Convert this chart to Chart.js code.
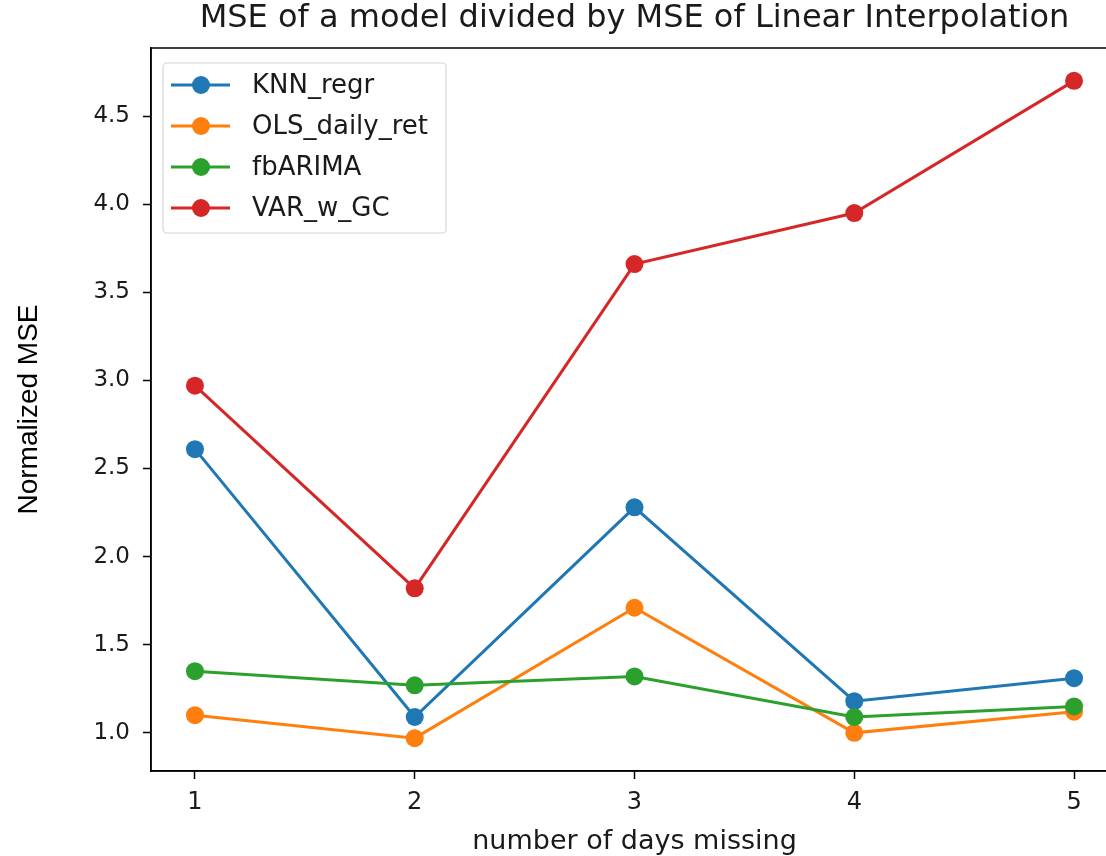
<!DOCTYPE html>
<html>
<head>
<meta charset="utf-8">
<script src="https://cdn.jsdelivr.net/npm/chart.js@4.4.1/dist/chart.umd.min.js"></script>
<style>
  html, body { margin: 0; padding: 0; background: #fff; overflow: hidden; }
  canvas { display: block; }
</style>
</head>
<body>
<canvas id="mseChart" width="1130" height="856"></canvas>
<script>
// x values: number of days missing
const daysMissing = [1, 2, 3, 4, 5];
const xTicks = [1, 2, 3, 4, 5];
const yTicks = [1.0, 1.5, 2.0, 2.5, 3.0, 3.5, 4.0, 4.5];

// series values
const knnRegr = [2.61, 1.09, 2.28, 1.18, 1.31];
const olsDailyRet = [1.10, 0.97, 1.71, 1.00, 1.12];
const fbArima = [1.35, 1.27, 1.32, 1.09, 1.15];
const varWGC = [2.97, 1.82, 3.66, 3.95, 4.70];

const seriesNames = ['KNN_regr', 'OLS_daily_ret', 'fbARIMA', 'VAR_w_GC'];
const seriesData = [knnRegr, olsDailyRet, fbArima, varWGC];
const seriesColors = ['#1f77b4', '#ff7f0e', '#2ca02c', '#d62728'];

const MPL_FONT = '"DejaVu Sans", sans-serif';

function makeDataset(i) {
    return {
        label: seriesNames[i],
        data: daysMissing.map((x, k) => ({ x: x, y: seriesData[i][k] })),
        borderColor: seriesColors[i],
        backgroundColor: seriesColors[i],
        borderWidth: 3,
        pointRadius: 9,
        pointBorderWidth: 0,
        pointHoverRadius: 9,
        tension: 0,
        fill: false,
        order: seriesNames.length - i   // last series drawn on top, like matplotlib
    };
}

// frame, title and legend box drawn the matplotlib way
const mplExtras = {
    id: 'mplExtras',
    afterDatasetsDraw(chart) {
        const ctx = chart.ctx;
        const a = chart.chartArea;
        ctx.save();
        ctx.strokeStyle = '#000';
        ctx.lineWidth = 1.5;
        ctx.strokeRect(a.left, a.top, a.right - a.left, a.bottom - a.top);

        // legend
        const lx = a.left + 12, ly = a.top + 15, lw = 283, lh = 170;
        ctx.fillStyle = 'rgba(255,255,255,0.8)';
        ctx.strokeStyle = '#d6d6d6';
        ctx.lineWidth = 1.2;
        ctx.beginPath();
        ctx.roundRect(lx, ly, lw, lh, 4);
        ctx.fill();
        ctx.stroke();
        ctx.font = '26px ' + MPL_FONT;
        ctx.textBaseline = 'middle';
        seriesNames.forEach((name, i) => {
            const y = ly + 22 + i * 41;
            ctx.strokeStyle = seriesColors[i];
            ctx.lineWidth = 3;
            ctx.beginPath();
            ctx.moveTo(lx + 8, y);
            ctx.lineTo(lx + 67, y);
            ctx.stroke();
            ctx.fillStyle = seriesColors[i];
            ctx.beginPath();
            ctx.arc(lx + 38, y, 9, 0, Math.PI * 2);
            ctx.fill();
            ctx.fillStyle = '#1a1a1a';
            ctx.fillText(name, lx + 89, y + 1);
        });
        ctx.restore();
    },
    afterDraw(chart) {
        const ctx = chart.ctx;
        const a = chart.chartArea;
        ctx.save();
        ctx.fillStyle = '#1a1a1a';
        ctx.font = '32px ' + MPL_FONT;
        ctx.textAlign = 'center';
        ctx.textBaseline = 'middle';
        ctx.fillText('MSE of a model divided by MSE of Linear Interpolation', (a.left + a.right) / 2, 19);
        ctx.restore();
    }
};

const ctx = document.getElementById('mseChart').getContext('2d');
new Chart(ctx, {
    type: 'line',
    data: { datasets: seriesNames.map((_, i) => makeDataset(i)) },
    options: {
        responsive: false,
        animation: false,
        layout: { padding: { left: 0, right: 12, top: 48, bottom: 0 } },
        plugins: {
            legend: { display: false },
            tooltip: { enabled: false },
            title: { display: false }
        },
        scales: {
            x: {
                type: 'linear',
                min: 0.8,
                max: 5.2,
                afterBuildTicks: axis => { axis.ticks = xTicks.map(v => ({ value: v })); },
                afterFit: axis => { axis.height = 85; },
                grid: { drawOnChartArea: false, drawTicks: true, tickLength: 8, tickWidth: 1.5, color: '#000' },
                border: { display: true, color: '#000', width: 1.5 },
                ticks: {
                    color: '#1a1a1a',
                    font: { family: MPL_FONT, size: 24 },
                    padding: 9,
                    maxRotation: 0,
                    callback: v => String(v)
                },
                title: {
                    display: true,
                    text: 'number of days missing',
                    color: '#1a1a1a',
                    font: { family: MPL_FONT, size: 27, lineHeight: 1 },
                    padding: { top: 0, bottom: 1 }
                }
            },
            y: {
                type: 'linear',
                min: 0.7835,
                max: 4.8865,
                afterBuildTicks: axis => { axis.ticks = yTicks.map(v => ({ value: v })); },
                afterFit: axis => { axis.width = 151; },
                grid: { drawOnChartArea: false, drawTicks: true, tickLength: 8, tickWidth: 1.5, color: '#000' },
                border: { display: true, color: '#000', width: 1.5 },
                ticks: {
                    color: '#1a1a1a',
                    font: { family: MPL_FONT, size: 23 },
                    padding: 13,
                    callback: v => v.toFixed(1)
                },
                title: {
                    display: true,
                    text: 'Normalized MSE',
                    color: '#000',
                    font: { family: '"Liberation Sans", Arial, sans-serif', size: 28 },
                    padding: { top: 12, bottom: 0 }
                }
            }
        }
    },
    plugins: [mplExtras]
});
</script>
</body>
</html>
